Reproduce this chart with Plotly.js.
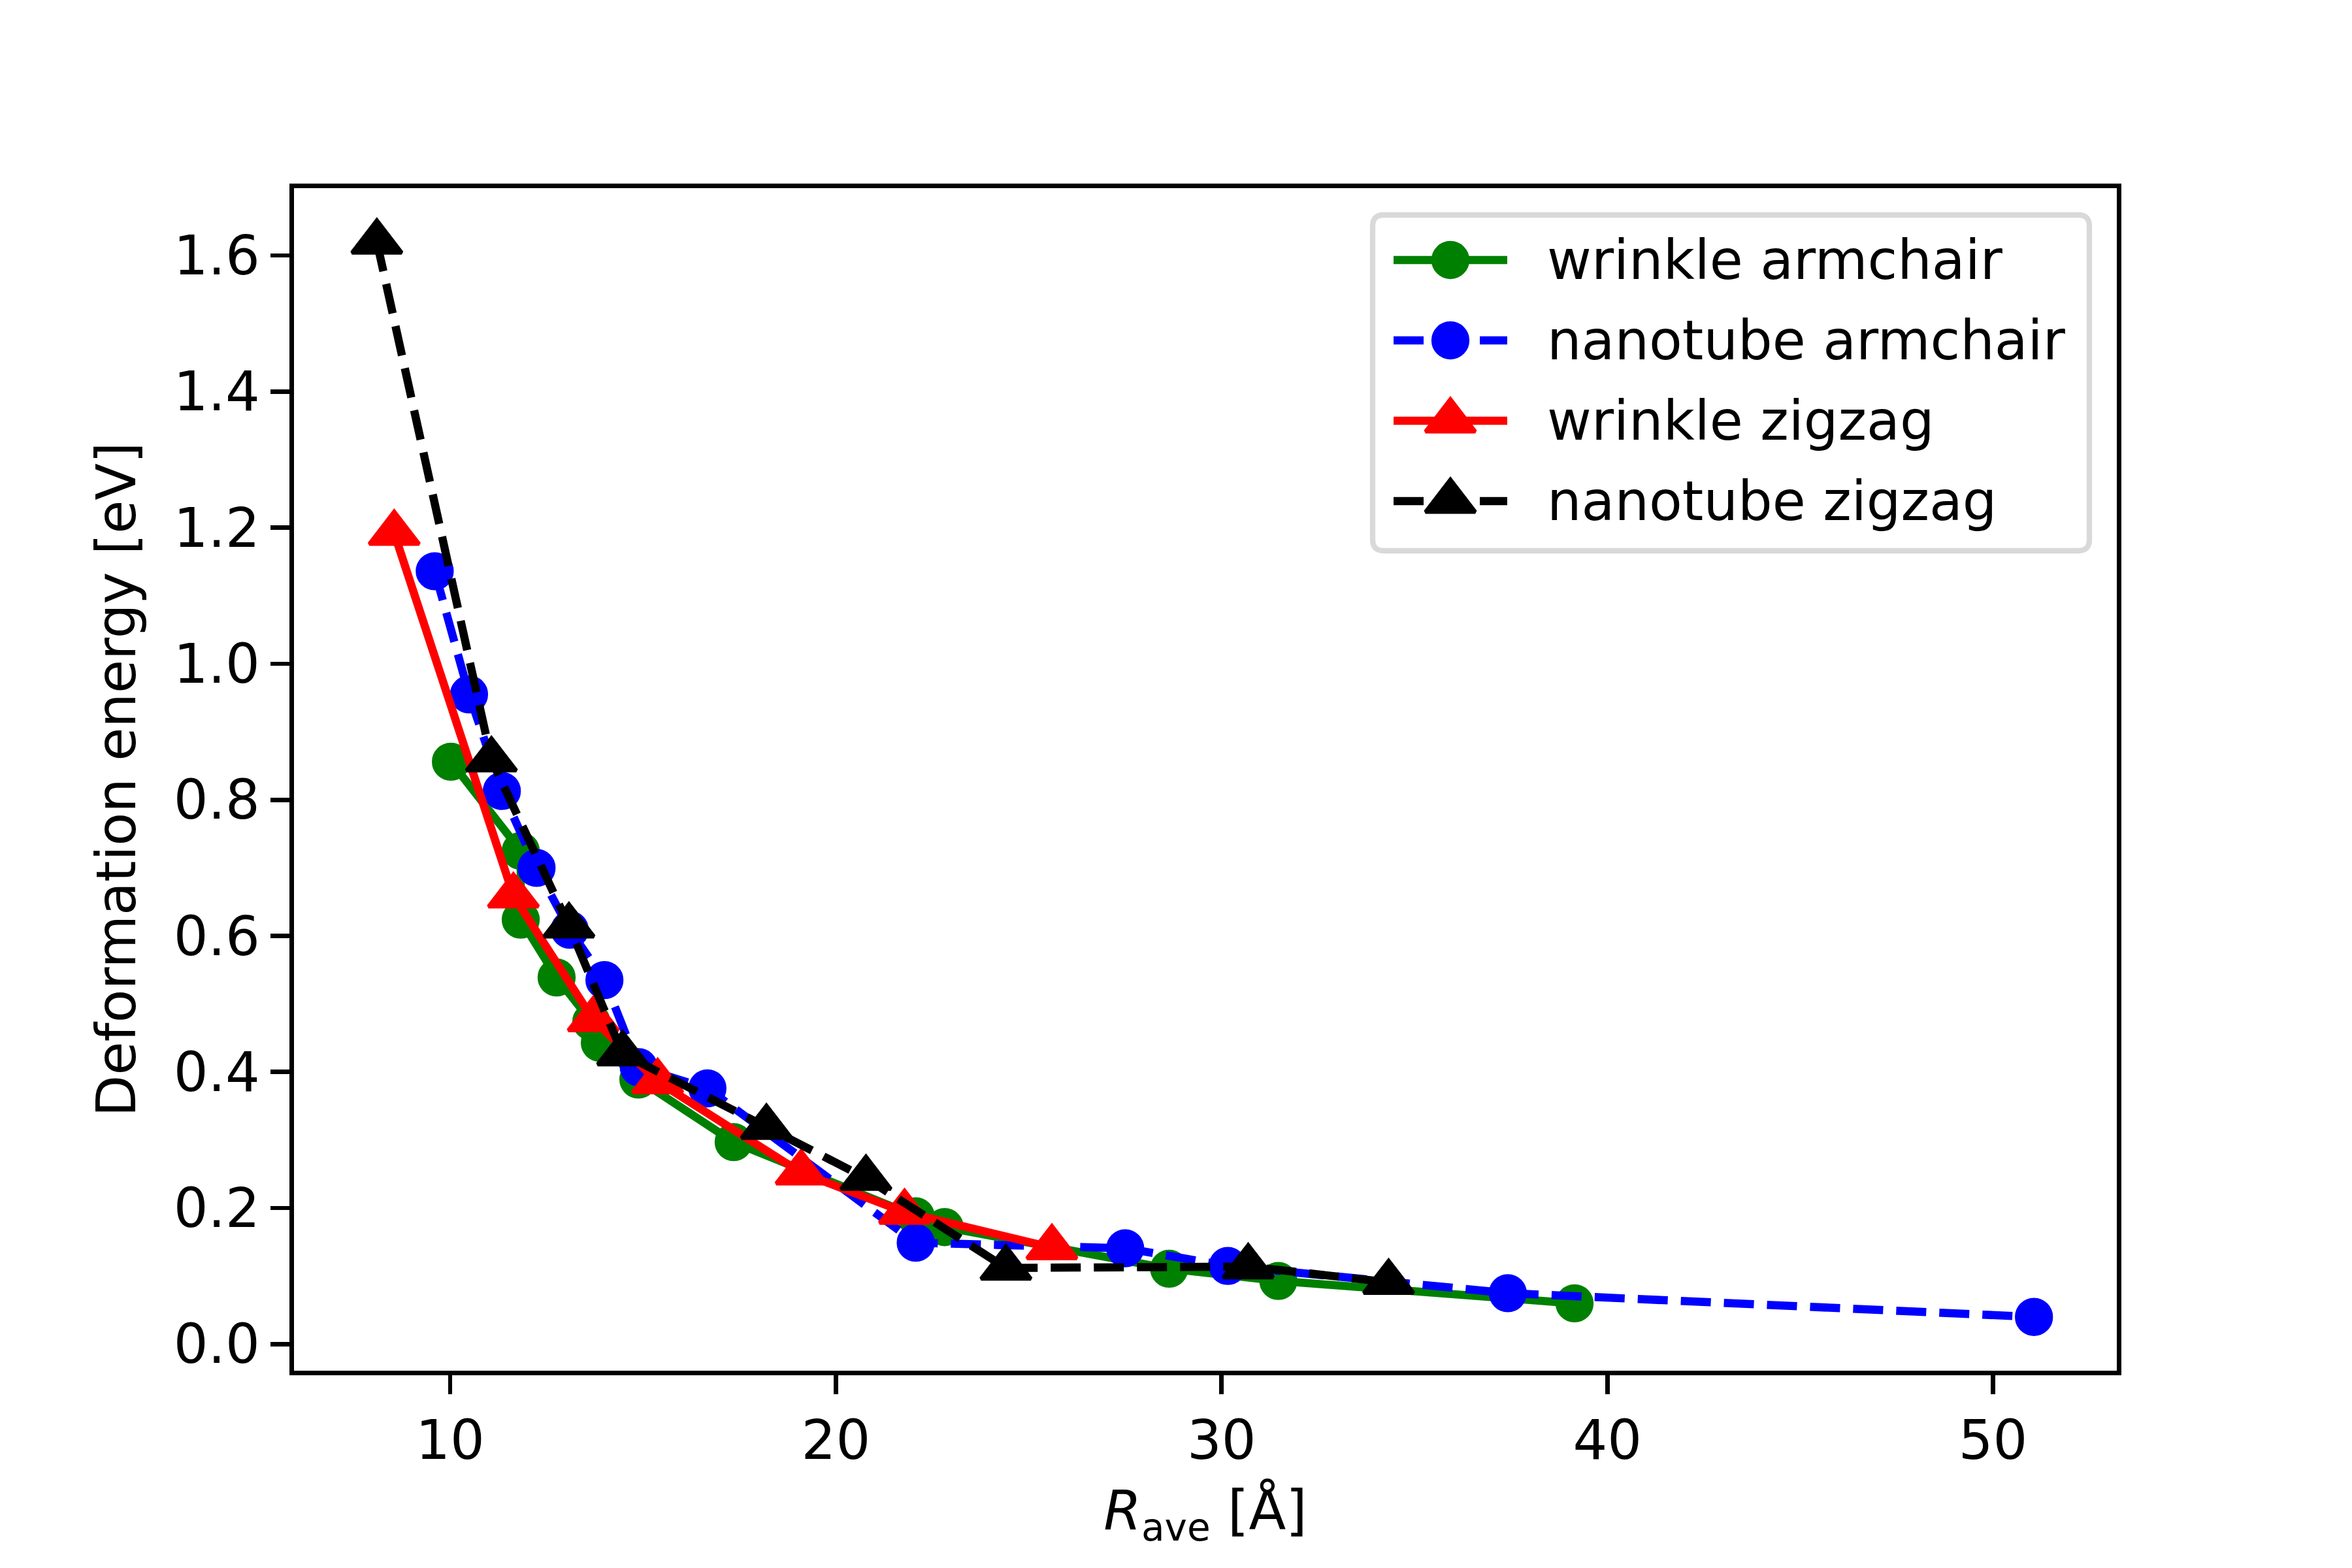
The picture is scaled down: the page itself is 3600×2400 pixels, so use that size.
<!DOCTYPE html>
<html>
<head>
<meta charset="utf-8">
<script src="https://cdn.plot.ly/plotly-3.0.1.min.js"></script>
<style>html,body{margin:0;padding:0;background:#fff;}</style>
</head>
<body>
<div id="chart" style="width:3600px;height:2400px;"></div>
<script>
// ---- data ----
const seriesNames = ["wrinkle armchair", "nanotube armchair", "wrinkle zigzag", "nanotube zigzag"];

const wrinkleArmchairR = [10.02, 11.83, 11.83, 12.76, 13.66, 13.88, 14.88, 17.35, 22.07, 22.82, 28.64, 31.47, 39.15];
const wrinkleArmchairE = [0.856, 0.725, 0.624, 0.539, 0.474, 0.443, 0.389, 0.297, 0.188, 0.172, 0.111, 0.093, 0.060];

const nanotubeArmchairR = [9.60, 10.49, 11.34, 12.24, 13.10, 14.00, 14.89, 16.67, 22.07, 27.50, 30.16, 37.42, 51.06];
const nanotubeArmchairE = [1.136, 0.955, 0.813, 0.700, 0.609, 0.535, 0.407, 0.376, 0.149, 0.141, 0.115, 0.075, 0.040];

const wrinkleZigzagR = [8.55, 11.64, 13.71, 15.38, 19.10, 21.78, 25.60];
const wrinkleZigzagE = [1.192, 0.659, 0.477, 0.386, 0.252, 0.194, 0.142];

const nanotubeZigzagR = [8.10, 11.07, 13.08, 14.47, 18.20, 20.78, 24.41, 30.69, 34.33];
const nanotubeZigzagE = [1.620, 0.859, 0.615, 0.427, 0.319, 0.244, 0.112, 0.114, 0.091];

const xTicks = [10, 20, 30, 40, 50];
const yTicks = [0.0, 0.2, 0.4, 0.6, 0.8, 1.0, 1.2, 1.4, 1.6];
const xTitle = "<i>R</i><sub>ave</sub> [Å]";
const yTitle = "Deformation energy [eV]";

// ---- styles ----
const colors = ["#008000", "#0000ff", "#ff0000", "#000000"];
const dashes = ["solid", "46px,20px", "solid", "46px,20px"];
const symbols = ["circle", "circle", "triangle-up", "triangle-up"];
const markerSizes = [50, 50, 66, 66];
const markerLines = [8.3, 8.3, 6, 6];
const LW = 12.5;
const FONT = "DejaVu Sans, Verdana, sans-serif";
const FS = 83;

const xs = [wrinkleArmchairR, nanotubeArmchairR, wrinkleZigzagR, nanotubeZigzagR];
const ys = [wrinkleArmchairE, nanotubeArmchairE, wrinkleZigzagE, nanotubeZigzagE];

// matplotlib-like autoscale with 5% margins
function autoRange(arrs) {
  const all = [].concat(...arrs);
  const mn = Math.min(...all), mx = Math.max(...all);
  const m = 0.05 * (mx - mn);
  return [mn - m, mx + m];
}
const xRange = autoRange(xs);
const yRange = autoRange(ys);

const traces = [];
for (let i = 0; i < 4; i++) {
  traces.push({
    type: "scatter", mode: "lines+markers", name: seriesNames[i],
    x: xs[i], y: ys[i], xaxis: "x", yaxis: "y",
    line: {color: colors[i], width: LW, dash: dashes[i]},
    marker: {symbol: symbols[i], size: markerSizes[i], color: colors[i],
             line: {color: colors[i], width: markerLines[i]}},
    cliponaxis: false, showlegend: false
  });
}

// ---- legend drawn in a pixel-unit overlay (figure pixels) ----
const plotL = 450, plotR = 3240, plotT = 288, plotB = 2098;
const legL = 2101, legR = 3198, legT = 329, legB = 843, legRad = 17;
const rowY0 = 398, rowStep = 123;
const handleX = [2133, 2220, 2307];
const textX = 2366;

for (let i = 0; i < 4; i++) {
  const ry = rowY0 + i * rowStep;
  traces.push({
    type: "scatter", mode: "lines", x: [handleX[0], handleX[2]], y: [ry, ry],
    xaxis: "x2", yaxis: "y2", showlegend: false, hoverinfo: "skip",
    line: {color: colors[i], width: LW, dash: dashes[i]}
  });
  traces.push({
    type: "scatter", mode: "markers", x: [handleX[1]], y: [ry],
    xaxis: "x2", yaxis: "y2", showlegend: false, hoverinfo: "skip",
    marker: {symbol: symbols[i], size: markerSizes[i], color: colors[i],
             line: {color: colors[i], width: markerLines[i]}}
  });
}

const r = legRad;
const boxPath = `M${legL + r},${legT} H${legR - r} Q${legR},${legT} ${legR},${legT + r} V${legB - r} Q${legR},${legB} ${legR - r},${legB} H${legL + r} Q${legL},${legB} ${legL},${legB - r} V${legT + r} Q${legL},${legT} ${legL + r},${legT} Z`;

const annotations = seriesNames.map((nm, i) => ({
  xref: "x2", yref: "y2", x: textX, y: rowY0 + i * rowStep,
  text: nm, showarrow: false, xanchor: "left", yanchor: "middle",
  font: {family: FONT, size: FS, color: "#000"}
}));

const axisCommon = {
  showgrid: false, zeroline: false, showline: true, mirror: true,
  linecolor: "#000", linewidth: 6.7, ticks: "outside", ticklen: 29,
  tickwidth: 6.7, tickcolor: "#000",
  tickfont: {family: FONT, size: FS, color: "#000"}, automargin: false
};

const layout = {
  width: 3600, height: 2400,
  margin: {l: plotL, r: 3600 - plotR, t: plotT, b: 2400 - plotB, pad: 0},
  paper_bgcolor: "#fff", plot_bgcolor: "#fff",
  font: {family: FONT, size: FS, color: "#000"},
  showlegend: false,
  xaxis: Object.assign({}, axisCommon, {
    range: xRange, tickmode: "array", tickvals: xTicks,
    ticktext: xTicks.map(String),
    title: {text: xTitle, standoff: 33, font: {family: FONT, size: FS, color: "#000"}}
  }),
  yaxis: Object.assign({}, axisCommon, {
    range: yRange, tickmode: "array", tickvals: yTicks,
    ticktext: yTicks.map(v => v.toFixed(1)),
    title: {text: yTitle, standoff: 33, font: {family: FONT, size: FS, color: "#000"}}
  }),
  xaxis2: {overlaying: "x", range: [plotL, plotR], visible: false, fixedrange: true},
  yaxis2: {overlaying: "y", range: [plotB, plotT], visible: false, fixedrange: true},
  shapes: [{
    type: "path", xref: "x2", yref: "y2", path: boxPath, layer: "below",
    line: {color: "#d9d9d9", width: 8.3}, fillcolor: "rgba(255,255,255,0.8)"
  }],
  annotations: annotations
};

Plotly.newPlot("chart", traces, layout, {displayModeBar: false, staticPlot: true});
</script>
</body>
</html>
